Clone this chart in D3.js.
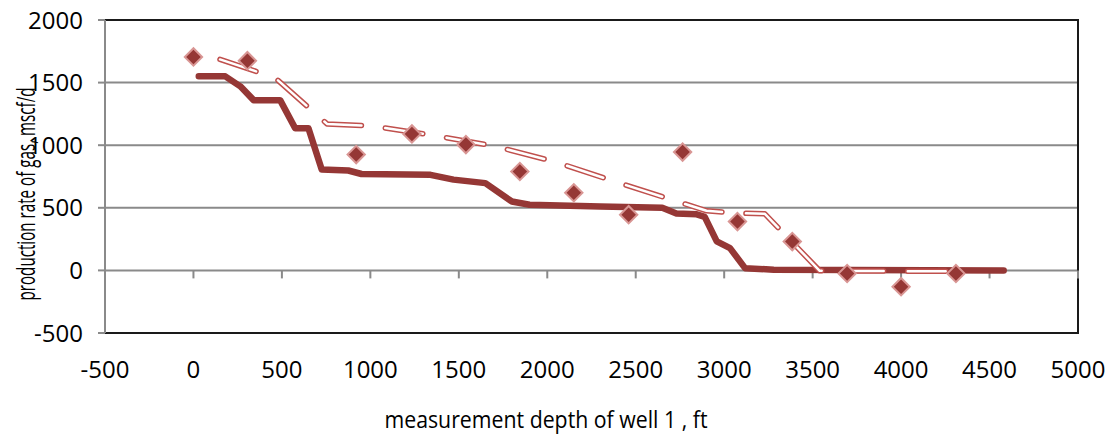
<!DOCTYPE html>
<html>
<head>
<meta charset="utf-8">
<script src="https://cdn.jsdelivr.net/npm/d3@7"></script>
<style>
  body { margin: 0; background: #fff; }
  text { font-family: "Open Sans", "Liberation Sans", sans-serif; fill: #000; }
</style>
</head>
<body>
<div id="chart"></div>
<script>
// measured points (diamonds)
const measDepth = [0, 305, 920, 1235, 1540, 1845, 2150, 2460, 2765, 3075, 3385, 3695, 4000, 4310];
const measRate  = [1705, 1675, 925, 1090, 1005, 790, 620, 445, 945, 390, 230, -25, -130, -25];

// solid curve
const solidDepth = [30, 180, 265, 340, 490, 575, 650, 725, 875, 950, 1340, 1470, 1650, 1800, 1900, 2300, 2650, 2730, 2845, 2890, 2958, 3033, 3118, 3280, 4580];
const solidRate  = [1550, 1550, 1470, 1360, 1360, 1135, 1135, 805, 798, 770, 763, 725, 697, 550, 524, 510, 500, 455, 448, 428, 232, 178, 18, 5, 0];

// dashed curve
const dashDepth = [150, 460, 755, 1000, 1335, 1695, 2045, 2385, 2900, 3060, 3230, 3540, 4350];
const dashRate  = [1685, 1540, 1170, 1155, 1083, 995, 867, 708, 476, 458, 452, -3, -8];

const xTicks = [-500, 0, 500, 1000, 1500, 2000, 2500, 3000, 3500, 4000, 4500, 5000];
const yTicks = [-500, 0, 500, 1000, 1500, 2000];

const width = 1118, height = 436;
const plotLeft = 105, plotRight = 1078, plotTop = 20, plotBottom = 333;

const svg = d3.select("#chart")
  .append("svg")
  .attr("width", width)
  .attr("height", height);

const xScale = d3.scaleLinear().domain([-500, 5000]).range([plotLeft, plotRight]);
const yScale = d3.scaleLinear().domain([-500, 2000]).range([plotBottom, plotTop]);

// gridlines
svg.selectAll(".grid")
  .data(yTicks.filter(d => d > -500 && d < 2000))
  .join("line")
  .attr("x1", plotLeft).attr("x2", plotRight)
  .attr("y1", d => yScale(d)).attr("y2", d => yScale(d))
  .attr("stroke", "#8a8a8a")
  .attr("stroke-width", 2);

// plot border
svg.append("rect")
  .attr("x", plotLeft).attr("y", plotTop)
  .attr("width", plotRight - plotLeft).attr("height", plotBottom - plotTop)
  .attr("fill", "none")
  .attr("stroke", "#1a1a1a")
  .attr("stroke-width", 2);

// y axis line + ticks
svg.append("line")
  .attr("x1", plotLeft).attr("x2", plotLeft)
  .attr("y1", plotTop).attr("y2", plotBottom)
  .attr("stroke", "#8a8a8a").attr("stroke-width", 2);

svg.selectAll(".ytick")
  .data(yTicks)
  .join("line")
  .attr("x1", plotLeft - 7).attr("x2", plotLeft)
  .attr("y1", d => yScale(d)).attr("y2", d => yScale(d))
  .attr("stroke", "#8a8a8a").attr("stroke-width", 2);

svg.selectAll(".ylab")
  .data(yTicks)
  .join("text")
  .attr("x", 83)
  .attr("y", d => yScale(d) + 8.5)
  .attr("text-anchor", "end")
  .attr("font-size", "24px")
  .text(d => d);

// x ticks hang off the zero line
svg.selectAll(".xtick")
  .data(xTicks)
  .join("line")
  .attr("x1", d => xScale(d)).attr("x2", d => xScale(d))
  .attr("y1", yScale(0)).attr("y2", yScale(0) + 8)
  .attr("stroke", "#8a8a8a").attr("stroke-width", 2);

svg.selectAll(".xlab")
  .data(xTicks)
  .join("text")
  .attr("x", d => xScale(d))
  .attr("y", 378)
  .attr("text-anchor", "middle")
  .attr("font-size", "24px")
  .text(d => d);

// axis titles
svg.append("text")
  .attr("x", 546).attr("y", 428)
  .attr("text-anchor", "middle")
  .attr("font-size", "24px")
  .attr("textLength", 323)
  .attr("lengthAdjust", "spacingAndGlyphs")
  .text("measurement depth of well 1 , ft");

svg.append("text")
  .attr("transform", "translate(35,194) rotate(-90)")
  .attr("text-anchor", "middle")
  .attr("font-size", "25px")
  .attr("textLength", 213)
  .attr("lengthAdjust", "spacingAndGlyphs")
  .text("production rate of gas, mscf/d");

// solid line
const line = d3.line().x(d => xScale(d[0])).y(d => yScale(d[1]));
const solidPts = solidDepth.map((d, i) => [d, solidRate[i]]);
const dashPts = dashDepth.map((d, i) => [d, dashRate[i]]);

svg.append("path")
  .attr("d", line(solidPts))
  .attr("fill", "none")
  .attr("stroke", "#953735")
  .attr("stroke-width", 6.5)
  .attr("stroke-linejoin", "round")
  .attr("stroke-linecap", "round");

// dashed double line: red outline with white core
svg.append("path")
  .attr("d", line(dashPts))
  .attr("fill", "none")
  .attr("stroke", "#c0504d")
  .attr("stroke-width", 5.5)
  .attr("stroke-dasharray", "38,24")
  .attr("stroke-linejoin", "round")
  .attr("stroke-linecap", "round");

svg.append("path")
  .attr("d", line(dashPts))
  .attr("fill", "none")
  .attr("stroke", "#fff")
  .attr("stroke-width", 2.5)
  .attr("stroke-dasharray", "38,24")
  .attr("stroke-linejoin", "round")
  .attr("stroke-linecap", "round");

// diamonds
const diamond = d3.symbol(d3.symbolSquare, 150);
svg.selectAll(".pt")
  .data(measDepth.map((d, i) => [d, measRate[i]]))
  .join("path")
  .attr("d", diamond)
  .attr("transform", d => `translate(${xScale(d[0])},${yScale(d[1])}) rotate(45)`)
  .attr("fill", "#953735")
  .attr("stroke", "#d99694")
  .attr("stroke-width", 2);
</script>
</body>
</html>
